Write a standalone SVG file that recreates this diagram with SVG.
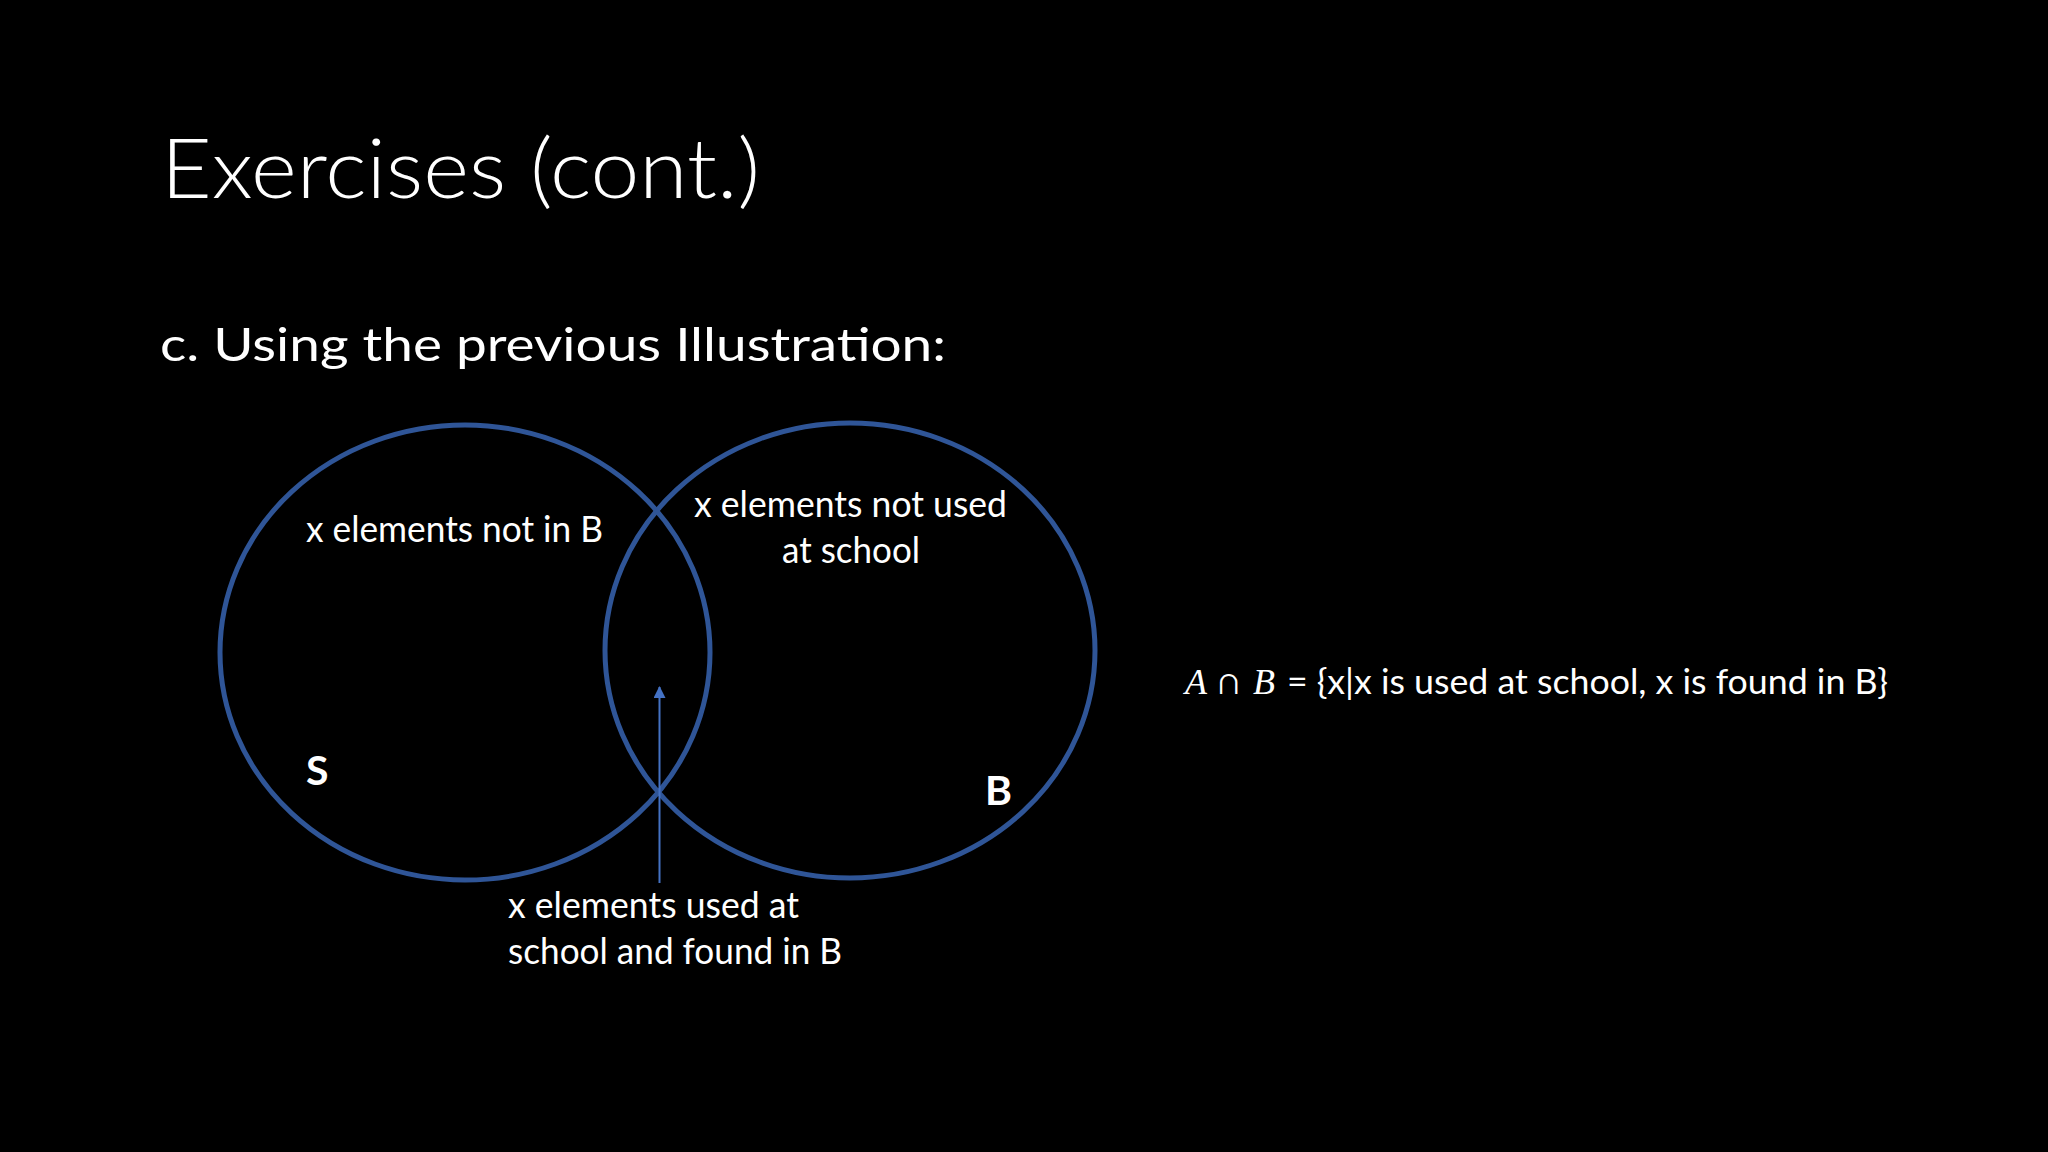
<svg xmlns="http://www.w3.org/2000/svg" width="2048" height="1152" viewBox="0 0 2048 1152">
  <style>
    .t { fill: #ffffff; font-family: Lato, "Open Sans", "Liberation Sans", sans-serif; }
    .lbl { font-size: 36px; }
    .big { font-size: 41px; font-weight: bold; }
    .set { fill: none; stroke: #2F5597; stroke-width: 5; }
    .math { font-family: "Liberation Serif", "DejaVu Serif", serif; font-style: italic; font-size: 36px; fill: #ffffff; }
  </style>
  <defs>
    <marker id="arr" markerUnits="userSpaceOnUse" markerWidth="12" markerHeight="12" viewBox="0 0 12 12" refX="11" refY="6" orient="auto">
      <path d="M0 0 L12 6 L0 12 Z" fill="#4472C4"/>
    </marker>
  </defs>
  <rect width="2048" height="1152" fill="#000000"/>

  <g id="title">
    <text class="t" x="161" y="198" font-size="82" font-weight="300" textLength="599" lengthAdjust="spacingAndGlyphs">Exercises (cont.)</text>
  </g>
  <g id="subtitle">
    <text class="t" x="160" y="361" font-size="46" textLength="786" lengthAdjust="spacingAndGlyphs">c. Using the previous Illustration:</text>
  </g>

  <g id="set-S">
    <ellipse class="set" cx="465" cy="652.5" rx="245" ry="227.5"/>
    <text class="t big" x="306" y="785">S</text>
    <text class="t lbl" x="306" y="542" textLength="297" lengthAdjust="spacingAndGlyphs">x elements not in B</text>
  </g>
  <g id="set-B">
    <ellipse class="set" cx="850" cy="650.5" rx="245" ry="227.5"/>
    <text class="t big" x="985" y="805">B</text>
    <text class="t lbl" x="694" y="517" textLength="313" lengthAdjust="spacingAndGlyphs">x elements not used</text>
    <text class="t lbl" x="782" y="563" textLength="138" lengthAdjust="spacingAndGlyphs">at school</text>
  </g>

  <g id="connectors">
    <line x1="659.5" y1="883" x2="659.5" y2="687" stroke="#4472C4" stroke-width="2" marker-end="url(#arr)"/>
  </g>

  <g id="intersection-label">
    <text class="t lbl" x="508" y="918" textLength="291" lengthAdjust="spacingAndGlyphs">x elements used at</text>
    <text class="t lbl" x="508" y="964" textLength="334" lengthAdjust="spacingAndGlyphs">school and found in B</text>
  </g>

  <g id="formula">
    <text class="math" x="1185" y="694">A</text>
    <text class="t" x="1218" y="694" font-size="36" font-family="DejaVu Sans, sans-serif">∩</text>
    <text class="math" x="1253" y="694">B</text>
    <text class="t" x="1287" y="694" font-size="34" textLength="601" lengthAdjust="spacingAndGlyphs">= {x|x is used at school, x is found in B}</text>
  </g>
</svg>
